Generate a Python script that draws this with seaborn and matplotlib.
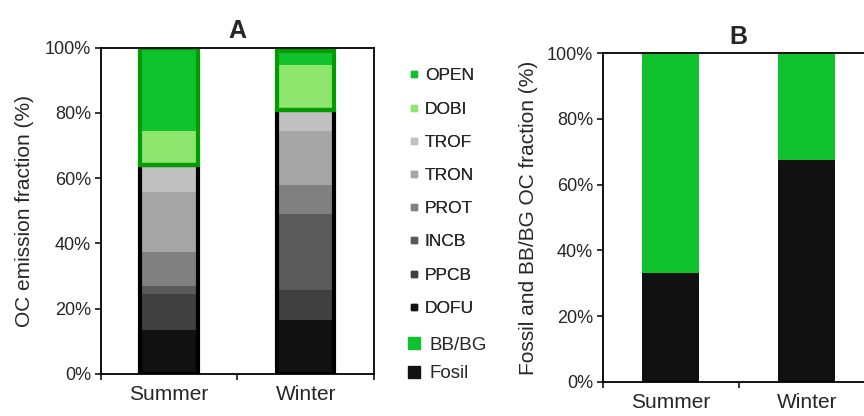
import numpy as np
import pandas as pd
import matplotlib.pyplot as plt
import seaborn as sns
from matplotlib.lines import Line2D

seasons = ['Summer', 'Winter']
sources = ['DOFU', 'PPCB', 'INCB', 'PROT', 'TRON', 'TROF', 'DOBI', 'OPEN']
summer = [13.5, 11.1, 2.5, 10.2, 18.4, 8.2, 10.5, 25.6]
winter = [16.6, 9.0, 23.3, 8.9, 16.6, 6.6, 13.6, 4.4]
fossil_src = ['DOFU', 'PPCB', 'INCB', 'PROT', 'TRON', 'TROF']
bbbg_src = ['DOBI', 'OPEN']

# panel B
fossil_b = [33.0, 67.5]
bbbg_b = [67.0, 32.5]

src_colors = {'DOFU': '#111111', 'PPCB': '#404040', 'INCB': '#5a5a5a', 'PROT': '#808080',
              'TRON': '#a6a6a6', 'TROF': '#c0c0c0', 'DOBI': '#8ee66e', 'OPEN': '#10c22d'}
green = '#10c22d'
dkgreen = '#009c00'
black = '#111111'

sns.set_style("ticks")
plt.rcParams['font.family'] = ['Liberation Sans', 'DejaVu Sans']
plt.rcParams['axes.linewidth'] = 1.3
plt.rcParams['axes.edgecolor'] = 'black'

df = pd.DataFrame({'Summer': summer, 'Winter': winter}, index=sources)

fig = plt.figure(figsize=(8.64, 4.16), dpi=100)
axA = fig.add_axes([0.1166, 0.101, 0.3163, 0.7843])
axB = fig.add_axes([0.6976, 0.0825, 0.3148, 0.7894])

# A: stacked source bars
bottom = np.zeros(2)
for s in sources:
    vals = df.loc[s, seasons].values
    sns.barplot(x=seasons, y=vals, bottom=bottom, color=src_colors[s], width=0.42,
                saturation=1, errorbar=None, linewidth=0, ax=axA)
    bottom = bottom + vals

# group outlines
fos_tot = df.loc[fossil_src].sum().values
bb_tot = df.loc[bbbg_src].sum().values
sns.barplot(x=seasons, y=fos_tot, width=0.42, fill=False, color='black', saturation=1,
            linewidth=3, errorbar=None, ax=axA)
sns.barplot(x=seasons, y=bb_tot, bottom=fos_tot, width=0.42, fill=False, color=dkgreen,
            saturation=1, linewidth=3, errorbar=None, ax=axA)

# B: fossil vs BB/BG
sns.barplot(x=seasons, y=fossil_b, color=black, width=0.42, saturation=1,
            errorbar=None, linewidth=0, ax=axB)
sns.barplot(x=seasons, y=bbbg_b, bottom=np.array(fossil_b), color=green, width=0.42,
            saturation=1, errorbar=None, linewidth=0, ax=axB)

for ax, title, ylab in [(axA, 'A', 'OC emission fraction (%)'),
                        (axB, 'B', 'Fossil and BB/BG OC fraction (%)')]:
    ax.set_xlim(-0.5, 1.5)
    ax.set_ylim(0, 100)
    ax.set_xticks([-0.5, 0.5, 1.5])
    ax.set_xticklabels([])
    ax.set_xticks([0, 1], minor=True)
    ax.set_xticklabels(seasons, minor=True, fontsize=15)
    ax.tick_params(axis='x', which='minor', length=0, pad=8)
    ax.tick_params(axis='x', which='major', length=4, width=1.3, direction='out')
    ax.set_yticks(range(0, 101, 20))
    ax.set_yticklabels([f'{v}%' for v in range(0, 101, 20)], fontsize=13)
    ax.tick_params(axis='y', length=4, width=1.3, direction='out', pad=3)
    ax.set_xlabel('')
    ax.set_ylabel(ylab, fontsize=15, labelpad=8 if ax is axA else 6)
    ax.set_title(title, fontsize=18, fontweight='bold', pad=7)
    for sp in ax.spines.values():
        sp.set_visible(True)

# legends
src_handles = [Line2D([], [], marker='s', linestyle='none', markersize=5,
                      markerfacecolor=src_colors[s], markeredgecolor=src_colors[s])
               for s in sources[::-1]]
leg1 = fig.legend(handles=src_handles, labels=sources[::-1], loc='upper left',
                  bbox_to_anchor=(0.474, 0.836), frameon=False, fontsize=12.5,
                  handlelength=0.5, handletextpad=0.38, labelspacing=1.04,
                  borderpad=0, borderaxespad=0)
grp_handles = [Line2D([], [], marker='s', linestyle='none', markersize=9,
                      markerfacecolor=c, markeredgecolor=c) for c in [green, black]]
fig.legend(handles=grp_handles, labels=['BB/BG', 'Fosil'], loc='upper left',
           bbox_to_anchor=(0.468, 0.191), frameon=False, fontsize=13.5,
           handlelength=1.0, handletextpad=0.36, labelspacing=0.61,
           borderpad=0, borderaxespad=0)
fig.add_artist(leg1)

fig.savefig('out.png', dpi=100)
